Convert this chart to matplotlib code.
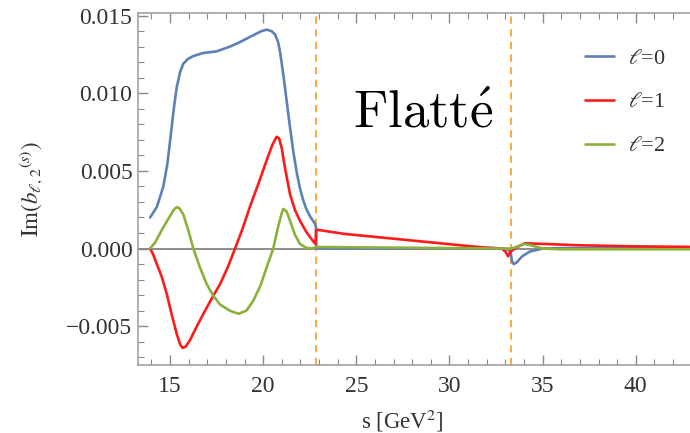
import matplotlib
matplotlib.use("Agg")
import matplotlib.pyplot as plt
from matplotlib.ticker import MultipleLocator, FuncFormatter

plt.rcParams['font.family'] = ['Liberation Serif', 'DejaVu Serif']
plt.rcParams['mathtext.fontset'] = 'stix'

# Im of the partial-wave projections, l = 0, 1, 2
s_l0 = [13.93, 14.3, 14.64, 14.85, 15.0, 15.2, 15.36, 15.55, 15.71, 15.95, 16.25, 16.8,
        17.5, 18.2, 18.76, 19.4, 19.9, 20.19, 20.45, 20.63, 20.8, 20.9, 21.08, 21.26,
        21.44, 21.61, 21.8, 21.97, 22.15, 22.33, 22.55, 22.78, 22.83, 22.86, 25.0, 30.0,
        33.0, 33.28, 33.35, 33.45, 33.6, 33.9, 34.3, 35.0, 36.0, 43.5]
im_l0 = [0.0020, 0.0027, 0.0040, 0.0054, 0.0069, 0.0090, 0.0104, 0.0114, 0.0119, 0.0122,
         0.0124, 0.0126, 0.0127, 0.0130, 0.0133, 0.0137, 0.0140, 0.0141, 0.0140, 0.0138,
         0.0133, 0.0127, 0.0112, 0.0095, 0.0078, 0.0063, 0.0049, 0.0039, 0.0031, 0.0025,
         0.0020, 0.0016, 0.0014, 0.0000, 0.0000, 0.0000, 0.0000, -0.0002, -0.0008, -0.0010,
         -0.0009, -0.0005, -0.0002, 0.0000, 0.00003, 0.00003]

s_l1 = [13.93, 14.1, 14.29, 14.55, 14.82, 15.1, 15.36, 15.55, 15.68, 15.85, 16.07, 16.4,
        16.79, 17.2, 17.68, 18.1, 18.49, 18.9, 19.29, 19.75, 20.19, 20.5, 20.72, 20.85,
        20.99, 21.2, 21.44, 21.7, 21.97, 22.3, 22.6, 22.8, 22.85, 22.95, 24.39, 27.97,
        31.54, 32.8, 33.0, 33.15, 33.28, 33.5, 33.8, 34.05, 35.0, 37.0, 40.0, 43.5]
im_l1 = [0.0, -0.0004, -0.0010, -0.0018, -0.0029, -0.0043, -0.0055, -0.0062, -0.0064,
         -0.0063, -0.0059, -0.0051, -0.0042, -0.0033, -0.0023, -0.0012, 0.0, 0.0013,
         0.0027, 0.0042, 0.0057, 0.0067, 0.0072, 0.0071, 0.0065, 0.0050, 0.0035, 0.0025,
         0.0018, 0.0011, 0.0006, 0.0003, 0.0012, 0.0012, 0.00094, 0.00052, 0.0001, 0.0,
         -0.0002, -0.0005, -0.0002, 0.0, 0.0002, 0.00034, 0.00030, 0.00021, 0.00014, 0.0001]

s_l2 = [13.93, 14.2, 14.64, 15.0, 15.2, 15.36, 15.5, 15.71, 16.0, 16.25, 16.6, 16.97,
        17.3, 17.68, 18.2, 18.67, 19.1, 19.47, 19.85, 20.19, 20.54, 20.8, 21.0, 21.08,
        21.25, 21.44, 21.7, 21.97, 22.3, 22.6, 22.83, 33.0, 33.28, 33.6, 34.0, 34.4,
        35.0, 36.0, 43.5]
im_l2 = [0.0, 0.0004, 0.00137, 0.0021, 0.0025, 0.00266, 0.0026, 0.0022, 0.0011, 0.0,
         -0.0012, -0.0023, -0.0030, -0.0036, -0.0040, -0.0042, -0.0040, -0.00335, -0.0024,
         -0.0012, 0.0, 0.0014, 0.0023, 0.00255, 0.0024, 0.0018, 0.0009, 0.0003, 0.00005,
         0.0, 0.0001, 0.0, 0.0, 0.0001, 0.0003, 0.0002, 0.0, -0.00005, -0.00005]

thresholds = [22.83, 33.28]
labels = [r'$\ell$=0', r'$\ell$=1', r'$\ell$=2']
colors = ['#5E81B5', '#FF1A1A', '#8DB03B']

fig = plt.figure(figsize=(6.9, 4.33), dpi=100)
ax = fig.add_axes([138 / 690, 68 / 433, 563 / 690, 352 / 433])

ax.axhline(0, color='#7a7a7a', lw=1.2, zorder=1)
for xv in thresholds:
    ax.axvline(xv, color='#FF9F30', lw=1.3, ls=(0, (4, 3)), zorder=1)

for s, im, lab, c in zip([s_l0, s_l1, s_l2], [im_l0, im_l1, im_l2], labels, colors):
    ax.plot(s, im, color=c, lw=1.9, label=lab, zorder=3,
            solid_joinstyle='round', solid_capstyle='round')

ax.set_xlim(13.28, 43.5)
ax.set_ylim(-0.0075, 0.01517)

ax.xaxis.set_major_locator(MultipleLocator(5))
ax.xaxis.set_minor_locator(MultipleLocator(1))
ax.yaxis.set_major_locator(MultipleLocator(0.005))
ax.yaxis.set_minor_locator(MultipleLocator(0.001))
ax.yaxis.set_major_formatter(FuncFormatter(lambda v, p: f"{v:.3f}".replace('-', '\u2212')))

for sp in ax.spines.values():
    sp.set_color('#9a9a9a')
    sp.set_linewidth(1.1)
ax.tick_params(which='both', direction='in', top=True, right=False, color='#8a8a8a',
               labelcolor='#333333', labelsize=17)
ax.tick_params(which='major', length=7, width=1)
ax.tick_params(which='minor', length=4, width=0.8)
ax.tick_params(axis='x', pad=8)
ax.tick_params(axis='y', pad=4)

ax.set_xlabel(r's [GeV$^2$]', fontsize=16.5, color='#333333')
ax.xaxis.set_label_coords((402 - 138) / 563, -(421 - 365) / 352, transform=ax.transAxes)
ax.set_ylabel(r'$\mathrm{Im}(b_{\ell,2}{}^{(s)})$', fontsize=16.5, color='#333333')
ax.yaxis.set_label_coords(-(138 - 32) / 563, 0.5, transform=ax.transAxes)
ax.xaxis.label.set_va('center')
ax.yaxis.label.set_va('center')

fig.text(353 / 690, 1 - 127 / 433, r'$\mathrm{Flatt\acute{e}}$', fontsize=38,
         math_fontfamily='cm', color='black', va='baseline')

ax.legend(loc='upper left', bbox_to_anchor=(565 / 690, 1 - 28 / 433),
          bbox_transform=fig.transFigure, frameon=False, fontsize=16,
          handlelength=1.3, handletextpad=0.65, labelspacing=1.05,
          labelcolor='#333333')

fig.savefig('out.png', dpi=100)
